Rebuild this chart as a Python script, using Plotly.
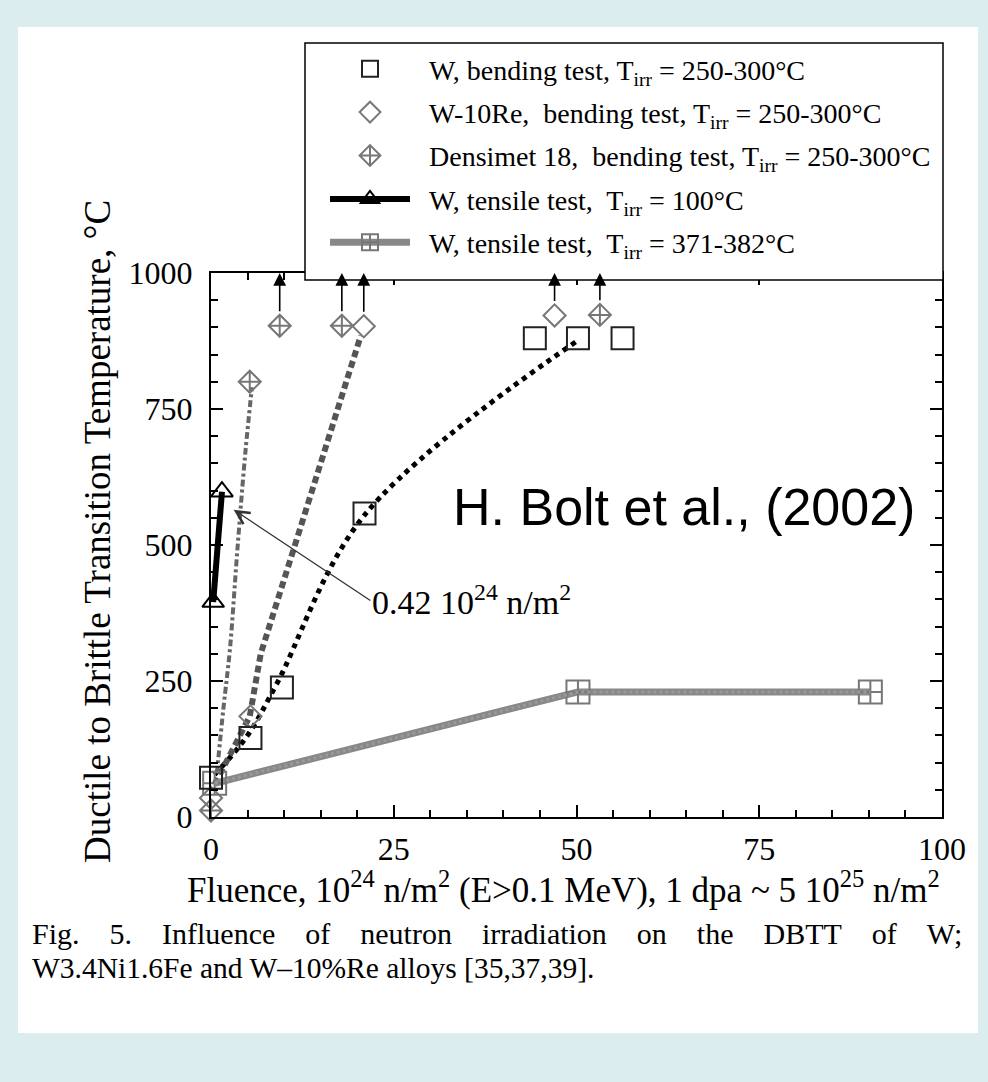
import plotly.graph_objects as go

# ---------------- data ----------------
w_bend_x = [0, 5.4, 9.7, 21.0, 44.3, 50.2, 56.3]
w_bend_y = [72, 145, 238, 558, 880, 880, 880]
w_bend_trend_x = [0.5, 5.0, 9.0, 21.0, 50.4]
w_bend_trend_y = [78, 150, 245, 555, 878]

wre_x = [0, 5.4, 20.9, 47.0]
wre_y = [35, 185, 902, 922]
wre_trend_x = [0.5, 5.3, 6.8, 20.5]
wre_trend_y = [60, 185, 300, 885]

dens_x = [0, 5.3, 9.4, 17.9, 53.2]
dens_y = [12, 800, 903, 903, 923]
dens_trend_x = [0.8, 1.7, 2.6, 3.6, 4.7, 5.6]
dens_trend_y = [80, 200, 310, 490, 670, 790]

w_t100_x = [0.3, 1.5]
w_t100_y = [395, 598]

w_t371_x = [0.5, 50.2, 90.2]
w_t371_y = [62, 230, 230]

# lower-bound points (arrows pointing up)
lb_x = [9.4, 17.9, 20.9, 47.0, 53.2]
lb_y = [903, 903, 902, 922, 923]

x_ticks = [0, 25, 50, 75, 100]
y_ticks = [0, 250, 500, 750, 1000]

NB = "\u00a0"
legend_names = [
    NB * 2 + "W, bending test, T<sub>irr</sub> = 250-300°C",
    NB * 2 + "W-10Re,  bending test, T<sub>irr</sub> = 250-300°C",
    NB * 2 + "Densimet 18,  bending test, T<sub>irr</sub> = 250-300°C",
    NB * 2 + "W, tensile test,  T<sub>irr</sub> = 100°C",
    NB * 2 + "W, tensile test,  T<sub>irr</sub> = 371-382°C",
]

caption_words = ["Fig.", "5.", "Influence", "of", "neutron", "irradiation", "on", "the",
                 "DBTT", "of", "W;"]
caption_line2 = "W3.4Ni1.6Fe and W–10%Re alloys [35,37,39]."

# ---------------- layout geometry (pixels) ----------------
W, H = 988, 1082
L, R, T, B = 211, 942, 273, 817
PW, PH = R - L, B - T


def px(xp):
    return (xp - L) / PW


def py(yp):
    return (B - yp) / PH


SERIF = "Liberation Serif, Times New Roman, serif"
SANS = "Liberation Sans, Arial, sans-serif"
GRAY = "#777777"

fig = go.Figure()

# trend lines (no legend)
fig.add_trace(go.Scatter(x=w_bend_trend_x, y=w_bend_trend_y, mode="lines",
                         line=dict(color="black", width=5, dash="5px,5px", shape="spline"),
                         showlegend=False, cliponaxis=False))
fig.add_trace(go.Scatter(x=wre_trend_x, y=wre_trend_y, mode="lines",
                         line=dict(color="#555555", width=6, dash="7px,4px"),
                         showlegend=False, cliponaxis=False))
fig.add_trace(go.Scatter(x=dens_trend_x, y=dens_trend_y, mode="lines",
                         line=dict(color="#666666", width=4, dash="7px,3px,3px,3px",
                                   shape="spline"),
                         showlegend=False, cliponaxis=False))

# W tensile 371-382
fig.add_trace(go.Scatter(x=w_t371_x, y=w_t371_y, mode="lines+markers", name=legend_names[4],
                         legendgroup="g5", legendrank=5,
                         line=dict(color="#888888", width=7),
                         marker=dict(symbol="square-cross-open", size=23,
                                     color=GRAY, line=dict(width=2, color=GRAY)),
                         cliponaxis=False))
fig.add_trace(go.Scatter(x=w_t371_x, y=w_t371_y, mode="lines", showlegend=False,
                         line=dict(color="#999999", width=3, dash="dot"),
                         cliponaxis=False))

# W tensile 100
fig.add_trace(go.Scatter(x=w_t100_x, y=w_t100_y, mode="lines+markers", name=legend_names[3],
                         legendgroup="g4", legendrank=4,
                         line=dict(color="black", width=6),
                         marker=dict(symbol="triangle-up-open", size=19, color="black",
                                     line=dict(width=2, color="black")),
                         cliponaxis=False))

# bending-test markers
fig.add_trace(go.Scatter(x=dens_x, y=dens_y, mode="markers", name=legend_names[2],
                         legendgroup="g3", legendrank=3,
                         marker=dict(symbol="diamond-cross-open", size=17, color=GRAY,
                                     line=dict(width=2, color=GRAY)),
                         cliponaxis=False))
fig.add_trace(go.Scatter(x=wre_x, y=wre_y, mode="markers", name=legend_names[1],
                         legendgroup="g2", legendrank=2,
                         marker=dict(symbol="diamond-open", size=17, color=GRAY,
                                     line=dict(width=2, color=GRAY)),
                         cliponaxis=False))
fig.add_trace(go.Scatter(x=w_bend_x, y=w_bend_y, mode="markers", name=legend_names[0],
                         legendgroup="g1", legendrank=1,
                         marker=dict(symbol="square-open", size=22, color="#222222",
                                     line=dict(width=2, color="#222222")),
                         cliponaxis=False))

annotations = []
# arrows for lower-bound points
for xv, yv in zip(lb_x, lb_y):
    annotations.append(dict(x=xv, y=1000, ax=xv, ay=yv + 24, xref="x", yref="y",
                            axref="x", ayref="y", text="", showarrow=True,
                            arrowhead=2, arrowsize=1.6, arrowwidth=1.6,
                            arrowcolor="black"))

# annotation with arrow
annotations.append(dict(x=3.1, y=565, ax=21.8, ay=398, xref="x", yref="y",
                        axref="x", ayref="y", xanchor="left", yanchor="middle",
                        text="0.42 10<sup>24</sup> n/m<sup>2</sup>", showarrow=True,
                        arrowhead=5, arrowsize=2.0, arrowwidth=1.3, arrowcolor="#333333",
                        font=dict(family=SERIF, size=34, color="black")))

annotations.append(dict(x=px(684), y=py(507), xref="paper", yref="paper",
                        xanchor="center", yanchor="middle",
                        text="H. Bolt et al., (2002)", showarrow=False,
                        font=dict(family=SANS, size=52, color="black")))

# axis titles
annotations.append(dict(x=px(97), y=py(532), xref="paper", yref="paper", textangle=-90,
                        xanchor="center", yanchor="middle",
                        text="Ductile to Brittle Transition Temperature, °C", showarrow=False,
                        font=dict(family=SERIF, size=37, color="black")))
annotations.append(dict(x=px(563), y=py(887), xref="paper", yref="paper",
                        xanchor="center", yanchor="middle",
                        text="Fluence, 10<sup>24</sup> n/m<sup>2</sup> (E>0.1 MeV), 1 dpa ~ 5 10<sup>25</sup> n/m<sup>2</sup>",
                        showarrow=False, font=dict(family=SERIF, size=35, color="black")))

# caption (first line justified with wider word gaps)
cap1 = (NB * 4).join(caption_words)
annotations.append(dict(x=px(30), y=py(933), xref="paper", yref="paper",
                        xanchor="left", yanchor="middle",
                        text=cap1, showarrow=False,
                        font=dict(family=SERIF, size=30, color="black")))
annotations.append(dict(x=px(30), y=py(968), xref="paper", yref="paper",
                        xanchor="left", yanchor="middle",
                        text=caption_line2, showarrow=False,
                        font=dict(family=SERIF, size=29.5, color="black")))

shapes = [
    # white panel
    dict(type="rect", xref="paper", yref="paper", x0=px(18), x1=px(978), y0=py(27), y1=py(1033),
         fillcolor="white", line=dict(width=0), layer="below"),
    # legend box
    dict(type="rect", xref="paper", yref="paper", x0=px(305), x1=px(943), y0=py(43), y1=py(280),
         fillcolor="white", line=dict(width=1.5, color="black"), layer="above"),
]

axis_common = dict(showline=True, linecolor="black", linewidth=2, mirror="allticks",
                   ticks="inside", ticklen=12, tickwidth=1.5, tickcolor="black",
                   showgrid=False, zeroline=False,
                   tickfont=dict(family=SERIF, size=32, color="black"))

fig.update_layout(
    width=W, height=H,
    margin=dict(l=L, r=W - R, t=T, b=H - B, autoexpand=False),
    paper_bgcolor="#dcedf0", plot_bgcolor="white",
    xaxis=dict(range=[0, 100], tickvals=x_ticks, ticklabelstandoff=3,
               minor=dict(dtick=5, tick0=0, ticks="inside", ticklen=7, tickwidth=1.5,
                          tickcolor="black"),
               **axis_common),
    yaxis=dict(range=[0, 1000], tickvals=y_ticks, ticklabelstandoff=10,
               minor=dict(dtick=50, tick0=0, ticks="inside", ticklen=7, tickwidth=1.5,
                          tickcolor="black"),
               **axis_common),
    legend=dict(x=px(325), y=py(44), xanchor="left", yanchor="top",
                bgcolor="rgba(0,0,0,0)", borderwidth=0,
                traceorder="grouped", tracegroupgap=4, itemwidth=80,
                font=dict(family=SERIF, size=28, color="black")),
    shapes=shapes,
    annotations=annotations,
)

fig.write_html("out.html")
